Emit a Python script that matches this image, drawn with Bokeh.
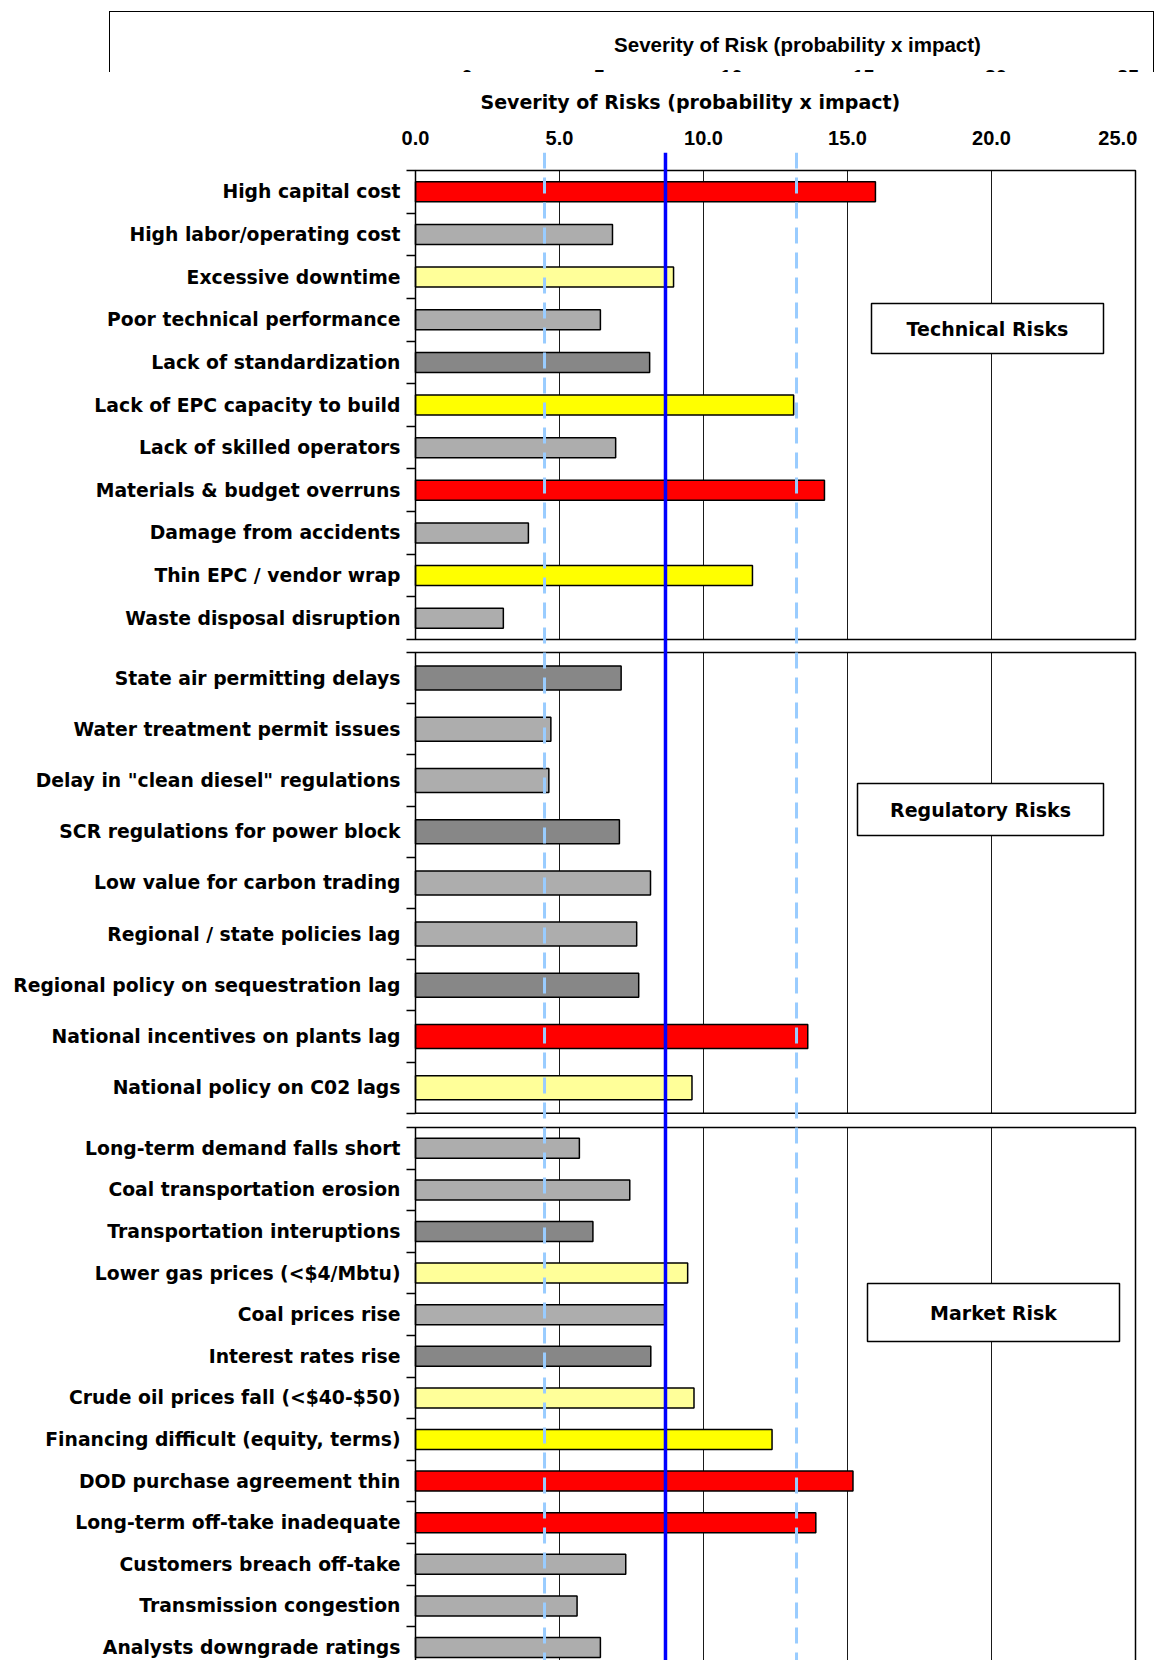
from bokeh.plotting import figure
from bokeh.layouts import column
from bokeh.models import (Range1d, FixedTicker, PrintfTickFormatter, Span,
                          BoxAnnotation, Label, CanvasTexture, Div)
from bokeh.embed import file_html
from bokeh.resources import INLINE
from bokeh.core.properties import value

# ---------------- data ----------------
HEADER_TITLE = "Severity of Risk (probability x impact)"
HEADER_TICKS = [0, 5, 10, 15, 20, 25]
AXIS_TITLE = "Severity of Risks (probability x impact)"
AXIS_TICKS = [0, 5, 10, 15, 20, 25]
GRID_TICKS = [5, 10, 15, 20]

TECH_TITLE = "Technical Risks"
TECH_LABELS = ["High capital cost", "High labor/operating cost", "Excessive downtime",
               "Poor technical performance", "Lack of standardization",
               "Lack of EPC capacity to build", "Lack of skilled operators",
               "Materials & budget overruns", "Damage from accidents",
               "Thin EPC / vendor wrap", "Waste disposal disruption"]
TECH_VALUES = [15.97, 6.84, 8.96, 6.42, 8.13, 13.13, 6.95, 14.20, 3.92, 11.70, 3.05]
TECH_FILLS = ["red", "light", "pale", "light", "dark", "yellow", "light", "red",
              "light", "yellow", "light"]

REG_TITLE = "Regulatory Risks"
REG_LABELS = ["State air permitting delays", "Water treatment permit issues",
              'Delay in "clean diesel" regulations', "SCR regulations for power block",
              "Low value for carbon trading", "Regional / state policies lag",
              "Regional policy on sequestration lag", "National incentives on plants lag",
              "National policy on C02 lags"]
REG_VALUES = [7.14, 4.70, 4.63, 7.08, 8.16, 7.68, 7.75, 13.62, 9.60]
REG_FILLS = ["dark", "light", "light", "dark", "light", "light", "dark", "red", "pale"]

MKT_TITLE = "Market Risk"
MKT_LABELS = ["Long-term demand falls short", "Coal transportation erosion",
              "Transportation interuptions", "Lower gas prices (<$4/Mbtu)",
              "Coal prices rise", "Interest rates rise", "Crude oil prices fall (<$40-$50)",
              "Financing difficult (equity, terms)", "DOD purchase agreement thin",
              "Long-term off-take inadequate", "Customers breach off-take",
              "Transmission congestion", "Analysts downgrade ratings"]
MKT_VALUES = [5.69, 7.44, 6.16, 9.45, 8.65, 8.17, 9.67, 12.38, 15.19, 13.90, 7.30, 5.61, 6.42]
MKT_FILLS = ["light", "light", "dark", "pale", "light", "dark", "pale", "yellow", "red",
             "red", "light", "light", "light"]

LOW_LINE = 4.48
MID_LINE = 8.68
HIGH_LINE = 13.23

# ---------------- styles ----------------
STYLES = {
    "red":    dict(fill="#FF0000", hatch=None),
    "yellow": dict(fill="#FFFF00", hatch=None),
    "pale":   dict(fill="#FFFF99", hatch=None),
    "light":  dict(fill="#FFFFFF", hatch="#404040"),
    "dark":   dict(fill="#EEEEEE", hatch="#000000"),
}
CHECKER_JS = """
const s = scale / 2;
ctx.fillStyle = "%s";
ctx.fillRect(0, 0, s, s);
ctx.fillRect(s, s, s, s);
"""
LABEL_FONT = "DejaVu Sans"
NUM_FONT = "Liberation Sans"

# ---------------- layout (page pixels) ----------------
FIG_W = 1159
HEAD_H = 72
MAIN_H = 1588
MAIN_TOP = HEAD_H
FRAME_TOP = 152
FRAME_BOTTOM = MAIN_TOP + MAIN_H
X0, PX = 415, 28.8          # page x of value 0, pixels per unit
FRAME_L, FRAME_R = 411, 1139
HX0, HPX = 467, 26.44        # header scale (page x of 0, px per unit)


def ux(px):
    return (px - X0) / PX


PANELS = [
    dict(labels=TECH_LABELS, values=TECH_VALUES, fills=TECH_FILLS, title=TECH_TITLE,
         top=170, pitch=42.64, bar=20, box=(871, 1103, 303, 353)),
    dict(labels=REG_LABELS, values=REG_VALUES, fills=REG_FILLS, title=REG_TITLE,
         top=652, pitch=51.2, bar=24, box=(857, 1103, 783, 835)),
    dict(labels=MKT_LABELS, values=MKT_VALUES, fills=MKT_FILLS, title=MKT_TITLE,
         top=1127, pitch=41.6, bar=20, box=(867, 1119, 1283, 1341)),
]

# ---------------- header (cropped chart strip) ----------------
mid = HX0 + HPX * (HEADER_TICKS[0] + HEADER_TICKS[-1]) / 2
tick_html = "".join(
    f'<div style="position:absolute;left:{HX0 + HPX * t - 30:.1f}px;width:60px;top:67px;'
    f'text-align:center;font-size:20px;line-height:20px;">{t}</div>'
    for t in HEADER_TICKS)
header_html = (
    f'<div style="position:relative;width:{FIG_W}px;height:{HEAD_H}px;overflow:hidden;'
    f"font-family:'{NUM_FONT}',Arial,sans-serif;font-weight:bold;color:#000;background:#fff;\">"
    f'<div style="position:absolute;left:109px;top:11px;width:1045px;height:90px;'
    f'border:1.5px solid #000;border-bottom:none;box-sizing:border-box;"></div>'
    f'<div style="position:absolute;left:{mid - 300:.1f}px;width:600px;top:34.5px;'
    f'text-align:center;font-size:20.5px;line-height:20.5px;white-space:nowrap;">'
    f'{HEADER_TITLE}</div>{tick_html}</div>')
header = Div(text=header_html, width=FIG_W, height=HEAD_H, margin=(0, 0, 0, 0),
             styles={"padding": "0px", "margin": "0px", "overflow": "hidden"})

# ---------------- main figure ----------------
p = figure(width=FIG_W, height=MAIN_H, x_axis_location="above",
           x_range=Range1d(ux(FRAME_L), ux(FRAME_R)),
           y_range=Range1d(FRAME_BOTTOM, FRAME_TOP),
           output_backend="svg", toolbar_location=None,
           min_border_left=FRAME_L, min_border_right=FIG_W - FRAME_R,
           min_border_top=FRAME_TOP - MAIN_TOP, min_border_bottom=0)
p.outline_line_color = None
p.grid.visible = False

p.title.text = AXIS_TITLE
p.title.align = "left"
p.title.offset = 69
p.title.text_font = LABEL_FONT
p.title.text_font_style = "bold"
p.title.text_font_size = "19px"
p.title.text_color = "black"
p.title.standoff = 21

xa = p.xaxis[0]
xa.ticker = FixedTicker(ticks=AXIS_TICKS, minor_ticks=[])
xa.formatter = PrintfTickFormatter(format="%.1f")
xa.major_label_overrides = {AXIS_TICKS[-1]: "%.1f" % AXIS_TICKS[-1] + "\u00a0" * 4}
xa.axis_line_color = None
xa.major_tick_line_color = None
xa.major_tick_out = 0
xa.major_tick_in = 0
xa.major_label_standoff = 4
xa.major_label_text_font = NUM_FONT
xa.major_label_text_font_style = "bold"
xa.major_label_text_font_size = "20px"
xa.major_label_text_color = "black"

centers, bounds, overrides = [], [], {}
groups = {k: dict(y=[], right=[], height=[]) for k in STYLES}
grid_x0, grid_y0, grid_y1 = [], [], []

for pan in PANELS:
    n = len(pan["labels"])
    top, pitch = pan["top"], pan["pitch"]
    bottom = top + n * pitch
    for i, (lab, val, f) in enumerate(zip(pan["labels"], pan["values"], pan["fills"])):
        c = round(top + (i + 0.5) * pitch, 3)
        centers.append(c)
        overrides[c] = lab
        groups[f]["y"].append(c)
        groups[f]["right"].append(val)
        groups[f]["height"].append(pan["bar"])
    bounds.extend(round(top + i * pitch, 3) for i in range(n + 1))
    for g in GRID_TICKS:
        grid_x0.append(g)
        grid_y0.append(top)
        grid_y1.append(bottom)
    pan["bottom"] = bottom

# grid lines within each panel
p.segment(x0=grid_x0, x1=grid_x0, y0=grid_y0, y1=grid_y1, line_color="#1a1a1a",
          line_width=1)

# bars
for key, st in STYLES.items():
    g = groups[key]
    if not g["y"]:
        continue
    kw = dict(fill_color=st["fill"], line_color="black", line_width=1.5)
    if st["hatch"]:
        name = "checker_" + key
        kw.update(hatch_pattern=value(name),
                  hatch_extra={name: CanvasTexture(code=CHECKER_JS % st["hatch"])},
                  hatch_color=st["hatch"], hatch_scale=6, hatch_alpha=1.0)
    p.hbar(y=g["y"], left=0, right=g["right"], height=g["height"], **kw)

# panel frames and titled boxes
for pan in PANELS:
    p.add_layout(BoxAnnotation(left=AXIS_TICKS[0], right=AXIS_TICKS[-1], top=pan["top"],
                               bottom=pan["bottom"], fill_alpha=0, line_color="black",
                               line_alpha=1, line_width=1.5))
    l, r, t, b = pan["box"]
    p.add_layout(BoxAnnotation(left=ux(l), right=ux(r), top=t, bottom=b,
                               fill_color="white", fill_alpha=1, line_color="black",
                               line_alpha=1, line_width=1.5))
    p.add_layout(Label(x=ux((l + r) / 2), y=(t + b) / 2, text=pan["title"],
                       text_align="center", text_baseline="middle",
                       text_font=LABEL_FONT, text_font_style="bold",
                       text_font_size="19px", text_color="black"))

# reference lines
p.add_layout(Span(location=LOW_LINE, dimension="height", line_color="#99CCFF",
                  line_width=3, line_dash="16 9"))
p.add_layout(Span(location=HIGH_LINE, dimension="height", line_color="#99CCFF",
                  line_width=3, line_dash="16 9"))
p.add_layout(Span(location=MID_LINE, dimension="height", line_color="#0000FF",
                  line_width=3.5))

ya = p.yaxis[0]
ya.ticker = FixedTicker(ticks=centers, minor_ticks=bounds)
ya.major_label_overrides = overrides
ya.axis_line_color = None
ya.major_tick_line_color = None
ya.major_tick_out = 0
ya.major_tick_in = 0
ya.minor_tick_out = 5
ya.minor_tick_in = 4
ya.minor_tick_line_color = "black"
ya.minor_tick_line_width = 1.5
ya.major_label_standoff = 6
ya.major_label_text_font = LABEL_FONT
ya.major_label_text_font_style = "bold"
ya.major_label_text_font_size = "18.8px"
ya.major_label_text_color = "black"

layout = column(header, p, spacing=0)
open("out.html", "w").write(file_html(layout, INLINE))
